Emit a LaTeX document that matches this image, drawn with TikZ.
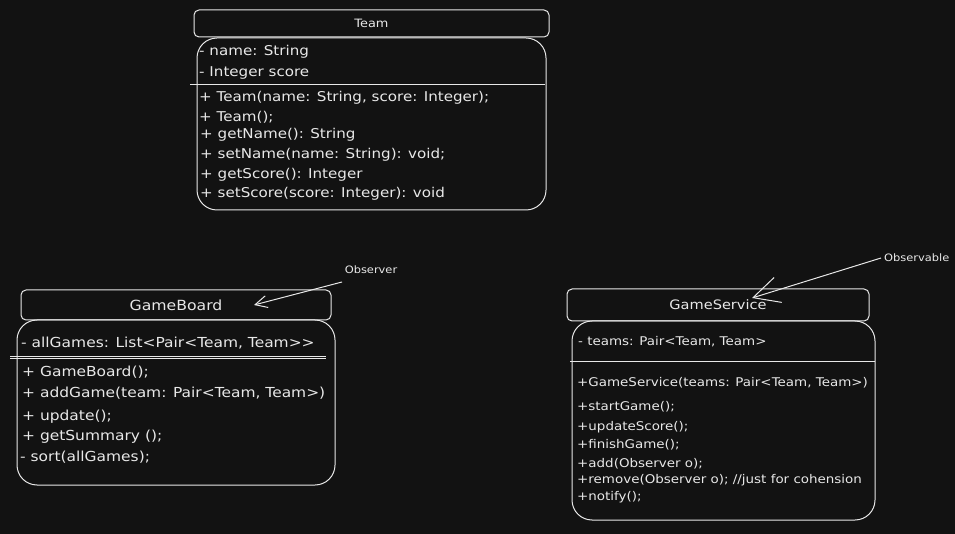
\documentclass[tikz,border=0pt]{standalone}
\usepackage{fontspec}
\setmainfont{DejaVu Sans}[FakeStretch=1.12]
\usetikzlibrary{arrows.meta}
\definecolor{bg}{HTML}{121212}
\definecolor{ink}{HTML}{E8E8E8}
\begin{document}
\begin{tikzpicture}[x=1pt,y=-1pt,
  box/.style={draw=ink, line width=1pt, rounded corners=#1, inner sep=0pt, text=ink},
  sepline/.style={draw=ink, line width=0.9pt},
  txt/.style={anchor=west, inner sep=0pt, text=ink, font=\fontsize{#1}{#1}\selectfont},
  lbl/.style={inner sep=0pt, text=ink, font=\fontsize{10.2}{10.2}\selectfont},
  obsarrow/.style={draw=ink, line width=1pt, -{Straight Barb[length=#1, width=#1]}}
]
\fill[bg] (0,0) rectangle (955,534);
\useasboundingbox (0,0) rectangle (955,534);

% ---- Team ----
\node[box=5pt, minimum width=355pt, minimum height=27pt, font=\fontsize{11.5}{11.5}\selectfont] (teamHead) at (371.5,23.5) {Team};
\node[box=20pt, minimum width=349pt, minimum height=172pt] (teamBody) at (371.5,124) {};
\draw[sepline] (190,84) -- (545,84);
\node[txt=13.5] (t1) at (199,52) {- name: String};
\node[txt=13.5] (t2) at (199,73) {- Integer score};
\node[txt=13.5] (t3) at (199,98) {+ Team(name: String, score: Integer);};
\node[txt=13.5] (t4) at (199,117) {+ Team();};
\node[txt=13.5] (t5) at (200,135) {+ getName(): String};
\node[txt=13.5] (t6) at (200,155) {+ setName(name: String): void;};
\node[txt=13.5] (t7) at (200,175) {+ getScore(): Integer};
\node[txt=13.5] (t8) at (200,194) {+ setScore(score: Integer): void};

% ---- GameBoard ----
\node[box=5pt, minimum width=310pt, minimum height=30pt, font=\fontsize{14}{14}\selectfont] (gbHead) at (176,305) {GameBoard};
\node[box=20pt, minimum width=318pt, minimum height=165pt] (gbBody) at (176,402.5) {};
\draw[sepline] (10,356) -- (326,356);
\draw[sepline] (10,358.5) -- (326,358.5);
\node[txt=13.8] (g1) at (21,343) {- allGames: List<Pair<Team, Team>\kern0pt>};
\node[txt=13.8] (g2) at (22,372) {+ GameBoard();};
\node[txt=13.8] (g3) at (22,393) {+ addGame(team: Pair<Team, Team>)};
\node[txt=13.8] (g4) at (22,417) {+ update();};
\node[txt=13.8] (g5) at (22,437) {+ getSummary ();};
\node[txt=13.8] (g6) at (20,457) {- sort(allGames);};

% ---- GameService ----
\node[box=5pt, minimum width=302pt, minimum height=32pt, font=\fontsize{13}{13}\selectfont] (gsHead) at (718,305) {GameService};
\node[box=20pt, minimum width=303pt, minimum height=199pt] (gsBody) at (723.5,420.5) {};
\draw[sepline] (570,361) -- (875,361);
\node[txt=12] (s1) at (578,342) {- teams: Pair<Team, Team>};
\node[txt=12] (s2) at (577,383) {+GameService(teams: Pair<Team, Team>)};
\node[txt=12] (s3) at (577,407) {+startGame();};
\node[txt=12] (s4) at (577,427) {+updateScore();};
\node[txt=12] (s5) at (577,445) {+finishGame();};
\node[txt=12] (s6) at (577,464) {+add(Observer o);};
\node[txt=12] (s7) at (577,480) {+remove(Observer o); //just for cohension};
\node[txt=12] (s8) at (577,497) {+notify();};

% ---- labels and arrows ----
\node[lbl] (observer) at (371,270) {Observer};
\node[lbl, anchor=west] (observable) at (884,258) {Observable};
\coordinate (obsTail) at (342,282);
\coordinate (obsTip) at (254,305);
\coordinate (oblTail) at (881,258);
\coordinate (oblTip) at (752,298);
\draw[obsarrow=12pt] (obsTail) -- (obsTip);
\draw[obsarrow=26pt] (oblTail) -- (oblTip);
\end{tikzpicture}
\end{document}
